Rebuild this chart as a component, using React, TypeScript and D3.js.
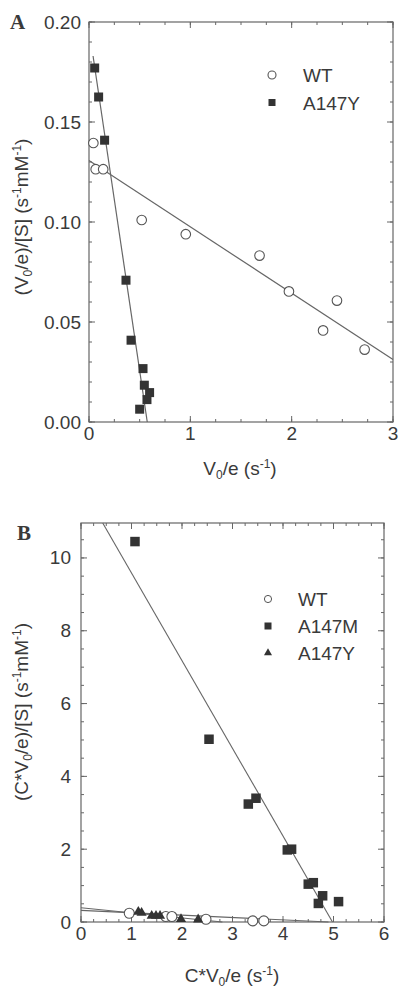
import React from 'react';
import * as d3 from 'd3';

// ---- panel A: (V0/e)/[S] vs V0/e ----
const wtAX = [0.043, 0.066, 0.14, 0.52, 0.955, 1.683, 1.973, 2.31, 2.447, 2.72];
const wtAY = [0.1395, 0.1264, 0.1264, 0.101, 0.0939, 0.0832, 0.0653, 0.0458, 0.0607, 0.0362];
const yAX = [0.056, 0.095, 0.154, 0.365, 0.415, 0.533, 0.546, 0.598, 0.572, 0.5];
const yAY = [0.177, 0.1625, 0.1409, 0.0709, 0.0409, 0.0267, 0.0184, 0.0147, 0.0112, 0.0064];
// fitted lines as [x, y] end points
const wtAFit = [[0, 0.1308], [3, 0.0312]];
const yAFit = [[0.04, 0.183], [0.575, 0]];
const aXTicks = [0, 1, 2, 3];
const aYTicks = [0, 0.05, 0.1, 0.15, 0.2];

// ---- panel B: (C*V0/e)/[S] vs C*V0/e ----
const wtBX = [0.956, 1.68, 1.8, 2.475, 3.4, 3.62];
const wtBY = [0.24, 0.15, 0.15, 0.075, 0.03, 0.03];
const mBX = [1.069, 2.535, 3.313, 3.465, 4.085, 4.17, 4.5, 4.6, 4.785, 4.7, 5.1];
const mBY = [10.45, 5.02, 3.24, 3.4, 1.98, 2.0, 1.04, 1.08, 0.72, 0.51, 0.56];
const yBX = [1.135, 1.2, 1.4, 1.485, 1.565, 1.98, 2.32];
const yBY = [0.28, 0.25, 0.17, 0.17, 0.17, 0.08, 0.07];
const mBFit = [[0.43, 10.96], [4.98, 0]];
const wtBFit = [[0, 0.32], [4.9, 0]];
const yBFit = [[0, 0.39], [2.8, 0]];
const bXTicks = [0, 1, 2, 3, 4, 5, 6];
const bYTicks = [0, 2, 4, 6, 8, 10];

const FONT = 'Liberation Sans, Arial, sans-serif';
const INK = '#3a3a3a';
const LINE = '#666';
const FS = 19;

function Frame({ x, y, xMajor, xMinor, yMajor, yMinor, yFmt, yLabelGap }) {
  const [x0, x1] = x.range();
  const [y0, y1] = y.range(); // y0 bottom, y1 top
  return (
    <g>
      <rect x={x0} y={y1} width={x1 - x0} height={y0 - y1} fill="none" stroke={LINE} strokeWidth={1.2} />
      {xMinor.map((t, i) => (
        <g key={'xm' + i} stroke={LINE}>
          <line x1={x(t)} x2={x(t)} y1={y0} y2={y0 - 3} />
          <line x1={x(t)} x2={x(t)} y1={y1} y2={y1 + 3} />
        </g>
      ))}
      {xMajor.map((t, i) => (
        <g key={'xM' + i}>
          <line x1={x(t)} x2={x(t)} y1={y0} y2={y0 - 6} stroke={LINE} />
          <line x1={x(t)} x2={x(t)} y1={y1} y2={y1 + 6} stroke={LINE} />
          <text x={x(t)} y={y0 + 18} textAnchor="middle" fontSize={FS} fill={INK}>{t}</text>
        </g>
      ))}
      {yMinor.map((t, i) => (
        <g key={'ym' + i} stroke={LINE}>
          <line x1={x0} x2={x0 + 3} y1={y(t)} y2={y(t)} />
          <line x1={x1} x2={x1 - 3} y1={y(t)} y2={y(t)} />
        </g>
      ))}
      {yMajor.map((t, i) => (
        <g key={'yM' + i}>
          <line x1={x0} x2={x0 + 6} y1={y(t)} y2={y(t)} stroke={LINE} />
          <line x1={x1} x2={x1 - 6} y1={y(t)} y2={y(t)} stroke={LINE} />
          <text x={x0 - yLabelGap} y={y(t) + 6.5} textAnchor="end" fontSize={FS} fill={INK}>{yFmt(t)}</text>
        </g>
      ))}
    </g>
  );
}

const fitLine = (x, y) => d3.line().x(d => x(d[0])).y(d => y(d[1]));

function Circles({ xs, ys, x, y, r = 4.8 }) {
  return xs.map((v, i) => (
    <circle key={i} cx={x(v)} cy={y(ys[i])} r={r} fill="#fff" stroke="#555" strokeWidth={1.1} />
  ));
}
function Squares({ xs, ys, x, y, s = 9 }) {
  return xs.map((v, i) => (
    <rect key={i} x={x(v) - s / 2} y={y(ys[i]) - s / 2} width={s} height={s} fill="#333" />
  ));
}
function Triangles({ xs, ys, x, y, s = 9 }) {
  const tri = d3.symbol().type(d3.symbolTriangle).size(s * s * 0.55);
  return xs.map((v, i) => (
    <path key={i} d={tri()} transform={`translate(${x(v)},${y(ys[i])})`} fill="#333" />
  ));
}

export default function App() {
  // panel A scales
  const xA = d3.scaleLinear().domain([0, 3]).range([89, 393]);
  const yA = d3.scaleLinear().domain([0, 0.2]).range([422, 22]);
  // panel B scales
  const xB = d3.scaleLinear().domain([0, 6]).range([81, 384]);
  const yB = d3.scaleLinear().domain([0, 10.96]).range([922, 523]);

  const lineA = fitLine(xA, yA);
  const lineB = fitLine(xB, yB);

  return (
    <svg width={398} height={989} style={{ position: 'absolute', left: 0, top: 0, background: '#fff' }}
      fontFamily={FONT}>
      {/* ---------- A ---------- */}
      <text x={10} y={29} fontSize={21} fontWeight="bold" fontFamily="Liberation Serif, Times New Roman, serif" fill={INK}>A</text>
      <Frame x={xA} y={yA} xMajor={aXTicks} xMinor={d3.range(0, 3.001, 0.25)}
        yMajor={aYTicks} yMinor={d3.range(0, 0.2001, 0.01)} yFmt={d3.format('.2f')} yLabelGap={8} />
      <path d={lineA(wtAFit)} fill="none" stroke={LINE} strokeWidth={1.2} />
      <path d={lineA(yAFit)} fill="none" stroke={LINE} strokeWidth={1.2} />
      <Circles xs={wtAX} ys={wtAY} x={xA} y={yA} />
      <Squares xs={yAX} ys={yAY} x={xA} y={yA} />
      <circle cx={272} cy={75} r={4} fill="#fff" stroke="#555" strokeWidth={1.1} />
      <text x={303} y={82} fontSize={FS} fill={INK}>WT</text>
      <rect x={268.5} y={99} width={7} height={7} fill="#333" />
      <text x={303} y={110} fontSize={FS} fill={INK}>A147Y</text>
      <text transform="translate(28,217) rotate(-90)" textAnchor="middle" fontSize={FS} fill={INK}>
        (V<tspan fontSize={12} dy={4}>0</tspan><tspan dy={-4}>/e)/[S] (s</tspan>
        <tspan fontSize={12} dy={-7}>-1</tspan><tspan dy={7}>mM</tspan>
        <tspan fontSize={12} dy={-7}>-1</tspan><tspan dy={7}>)</tspan>
      </text>
      <text x={240} y={475} textAnchor="middle" fontSize={FS} fill={INK}>
        V<tspan fontSize={12} dy={4}>0</tspan><tspan dy={-4}>/e (s</tspan>
        <tspan fontSize={12} dy={-7}>-1</tspan><tspan dy={7}>)</tspan>
      </text>

      {/* ---------- B ---------- */}
      <text x={17} y={540} fontSize={21} fontWeight="bold" fontFamily="Liberation Serif, Times New Roman, serif" fill={INK}>B</text>
      <Frame x={xB} y={yB} xMajor={bXTicks} xMinor={d3.range(0, 6.001, 0.25)}
        yMajor={bYTicks} yMinor={d3.range(0, 10.9, 0.5)} yFmt={d3.format('d')} yLabelGap={10} />
      <path d={lineB(mBFit)} fill="none" stroke={LINE} strokeWidth={1.1} />
      <path d={lineB(wtBFit)} fill="none" stroke={LINE} strokeWidth={1.1} />
      <path d={lineB(yBFit)} fill="none" stroke={LINE} strokeWidth={1.1} />
      <Circles xs={wtBX} ys={wtBY} x={xB} y={yB} r={5} />
      <Triangles xs={yBX} ys={yBY} x={xB} y={yB} />
      <Squares xs={mBX} ys={mBY} x={xB} y={yB} s={9.5} />
      <circle cx={268} cy={599} r={3.6} fill="#fff" stroke="#555" strokeWidth={1} />
      <text x={298} y={606} fontSize={FS} fill={INK}>WT</text>
      <rect x={264.5} y={622.5} width={7} height={7} fill="#333" />
      <text x={298} y={633} fontSize={FS} fill={INK}>A147M</text>
      <path d={d3.symbol().type(d3.symbolTriangle).size(28)()} transform="translate(268,653)" fill="#333" />
      <text x={298} y={660} fontSize={FS} fill={INK}>A147Y</text>
      <text transform="translate(28,712) rotate(-90)" textAnchor="middle" fontSize={FS} fill={INK}>
        (C*V<tspan fontSize={12} dy={4}>0</tspan><tspan dy={-4}>/e)/[S] (s</tspan>
        <tspan fontSize={12} dy={-7}>-1</tspan><tspan dy={7}>mM</tspan>
        <tspan fontSize={12} dy={-7}>-1</tspan><tspan dy={7}>)</tspan>
      </text>
      <text x={232} y={982} textAnchor="middle" fontSize={FS} fill={INK}>
        C*V<tspan fontSize={12} dy={4}>0</tspan><tspan dy={-4}>/e (s</tspan>
        <tspan fontSize={12} dy={-7}>-1</tspan><tspan dy={7}>)</tspan>
      </text>
    </svg>
  );
}
